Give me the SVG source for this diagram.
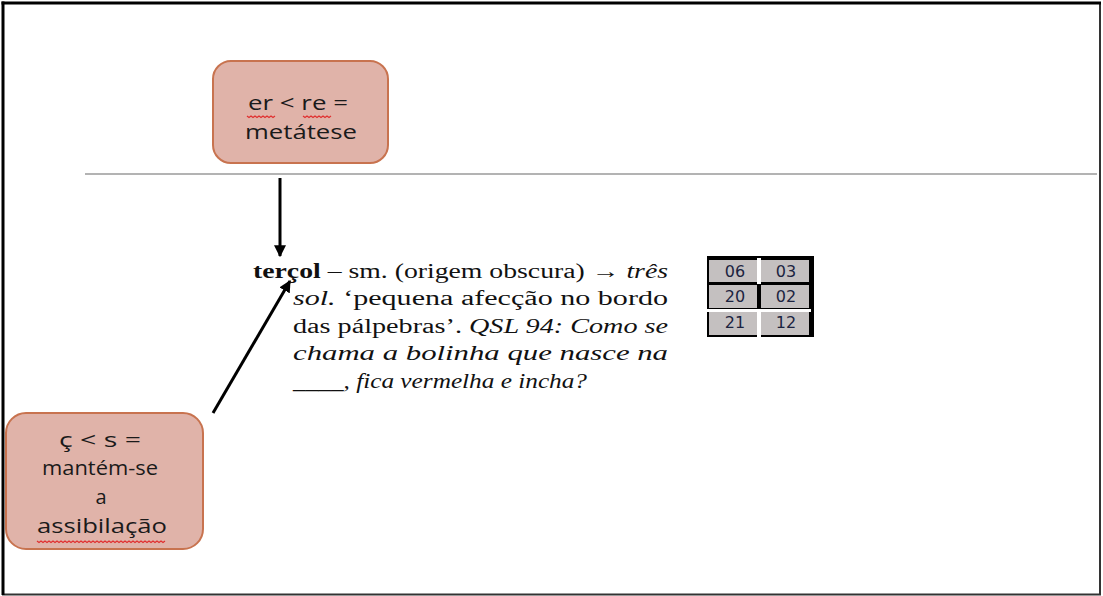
<svg xmlns="http://www.w3.org/2000/svg" width="1103" height="596" viewBox="0 0 1103 596">
<style>
.box{fill:#e0b3a9;stroke:#c8734f;stroke-width:2}
.bt{font-family:"Open Sans","Liberation Sans",sans-serif;font-size:20px;fill:#1a1a1a;text-anchor:middle}
.tx{font-family:"Liberation Serif","Times New Roman",serif;font-size:20px;fill:#111}
.num{font-family:"DejaVu Sans","Liberation Sans",sans-serif;font-size:16px;fill:#1c2440;text-anchor:middle}
.cell{fill:#c4c0c0}
.conn{stroke:#000;stroke-width:3;fill:none}
.wave{stroke:#e03030;stroke-width:1.2;fill:none}
</style>
<defs>
<marker id="ah" viewBox="0 0 10 10" refX="9" refY="5" markerWidth="12" markerHeight="12" markerUnits="userSpaceOnUse" orient="auto">
<path d="M0,0 L10,5 L0,10 z" fill="#000"/>
</marker>
</defs>
<rect x="0" y="0" width="1103" height="596" fill="#fff"/>
<g id="frame">
<line x1="1100" y1="2" x2="1100" y2="595" stroke="#333" stroke-width="2"/>
<line x1="2" y1="594.5" x2="1101" y2="594.5" stroke="#333" stroke-width="2"/>
<line x1="1.5" y1="3" x2="1101" y2="3" stroke="#000" stroke-width="3"/>
<line x1="3" y1="1.5" x2="3" y2="595" stroke="#000" stroke-width="3"/>
</g>
<line id="divider" x1="85" y1="174" x2="1097" y2="174" stroke="#9a9a9a" stroke-width="1.5"/>
<g id="node-metatese">
<rect class="box" x="213" y="61" width="175" height="102" rx="18"/>
<text class="bt" x="298" y="110" textLength="100" lengthAdjust="spacingAndGlyphs">er &lt; re =</text>
<text class="bt" x="301" y="139" textLength="112" lengthAdjust="spacingAndGlyphs">metátese</text>
<path class="wave" d="M247,116 l2,1.5 l2,-1.5 l2,1.5 l2,-1.5 l2,1.5 l2,-1.5 l2,1.5 l2,-1.5 l2,1.5 l2,-1.5 l2,1.5 l2,-1.5 l2,1.5 l2,-1.5"/>
<path class="wave" d="M303,116 l2,1.5 l2,-1.5 l2,1.5 l2,-1.5 l2,1.5 l2,-1.5 l2,1.5 l2,-1.5 l2,1.5 l2,-1.5 l2,1.5 l2,-1.5 l2,1.5 l2,-1.5"/>
</g>
<g id="node-assibilacao">
<rect class="box" x="6" y="413" width="197" height="136" rx="20"/>
<text class="bt" x="100" y="447" textLength="82" lengthAdjust="spacingAndGlyphs">ç &lt; s =</text>
<text class="bt" x="100" y="475" textLength="116" lengthAdjust="spacingAndGlyphs">mantém-se</text>
<text class="bt" x="101" y="504">a</text>
<text class="bt" x="102" y="533" textLength="130" lengthAdjust="spacingAndGlyphs">assibilação</text>
<path class="wave" d="M37,541 l2,1.5 l2,-1.5 l2,1.5 l2,-1.5 l2,1.5 l2,-1.5 l2,1.5 l2,-1.5 l2,1.5 l2,-1.5 l2,1.5 l2,-1.5 l2,1.5 l2,-1.5 l2,1.5 l2,-1.5 l2,1.5 l2,-1.5 l2,1.5 l2,-1.5 l2,1.5 l2,-1.5 l2,1.5 l2,-1.5 l2,1.5 l2,-1.5 l2,1.5 l2,-1.5 l2,1.5 l2,-1.5 l2,1.5 l2,-1.5 l2,1.5 l2,-1.5 l2,1.5 l2,-1.5 l2,1.5 l2,-1.5 l2,1.5 l2,-1.5 l2,1.5 l2,-1.5 l2,1.5 l2,-1.5 l2,1.5 l2,-1.5 l2,1.5 l2,-1.5 l2,1.5 l2,-1.5 l2,1.5 l2,-1.5 l2,1.5 l2,-1.5 l2,1.5 l2,-1.5 l2,1.5 l2,-1.5 l2,1.5 l2,-1.5 l2,1.5 l2,-1.5 l2,1.5 l2,-1.5"/>
</g>
<g id="node-tercol">
<text class="tx" x="253" y="278" textLength="415" lengthAdjust="spacingAndGlyphs"><tspan font-weight="bold">terçol</tspan> – sm. (origem obscura) → <tspan font-style="italic">três</tspan></text>
<text class="tx" x="293" y="305" textLength="375" lengthAdjust="spacingAndGlyphs"><tspan font-style="italic">sol.</tspan> ‘pequena afecção no bordo</text>
<text class="tx" x="293" y="333" textLength="375" lengthAdjust="spacingAndGlyphs">das pálpebras’. <tspan font-style="italic">QSL 94: Como se</tspan></text>
<text class="tx" x="293" y="360" textLength="375" lengthAdjust="spacingAndGlyphs" font-style="italic">chama a bolinha que nasce na</text>
<text class="tx" x="293" y="388" textLength="294" lengthAdjust="spacingAndGlyphs" font-style="italic">____, fica vermelha e incha?</text>
</g>
<g id="node-table">
<rect x="707" y="256" width="107" height="81" fill="#000"/>
<rect x="757" y="258" width="4" height="26" fill="#fff"/>
<rect x="707" y="309" width="104" height="3" fill="#fff"/>
<rect x="757" y="311" width="4" height="26" fill="#fff"/>
<rect class="cell" x="709" y="260" width="48" height="22"/>
<rect class="cell" x="761" y="260" width="48" height="22"/>
<rect class="cell" x="709" y="285" width="48" height="23"/>
<rect class="cell" x="761" y="285" width="48" height="23"/>
<rect class="cell" x="709" y="312" width="48" height="23"/>
<rect class="cell" x="761" y="312" width="48" height="23"/>
<text class="num" x="735" y="277">06</text>
<text class="num" x="786" y="277">03</text>
<text class="num" x="735" y="302">20</text>
<text class="num" x="786" y="302">02</text>
<text class="num" x="735" y="328">21</text>
<text class="num" x="786" y="328">12</text>
</g>
<g id="connectors">
<line class="conn" x1="280" y1="178" x2="280" y2="256" marker-end="url(#ah)"/>
<line class="conn" x1="213" y1="413" x2="290" y2="281" marker-end="url(#ah)"/>
</g>
</svg>
